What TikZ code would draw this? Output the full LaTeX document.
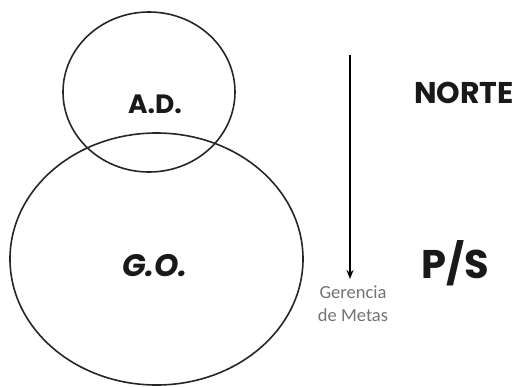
\documentclass[tikz,border=0pt]{standalone}
\usepackage{fontspec}
\setmainfont{Poppins}
\newfontfamily\notefont{Carlito}
\usetikzlibrary{arrows.meta}
\begin{document}
\begin{tikzpicture}[x=1pt,y=-1pt,
  ring/.style={draw=black!85,line width=1.6pt},
  bigtag/.style={font=\bfseries,text=black!90,inner sep=0pt},
  note/.style={font=\notefont\fontsize{18.5}{23}\selectfont,text=black!55,align=center,inner sep=0pt}]
  \useasboundingbox (0,0) rectangle (519,386);
  % overlapping circles
  \draw[ring] (149,92) ellipse [x radius=86,y radius=80];
  \draw[ring] (156.5,259) ellipse [x radius=146.5,y radius=126];
  \node[bigtag,font=\bfseries\fontsize{26.5}{30}\selectfont] (ad) at (155,104) {A.D.};
  \node[bigtag,font=\bfseries\itshape\fontsize{31}{36}\selectfont] (go) at (155,266) {G.O.};
  % downward arrow with its caption
  \coordinate (top) at (350,55);
  \coordinate (tip) at (350,279);
  \node[note] (gm) at (353,304) {Gerencia\\de Metas};
  \draw[line width=1.8pt,-{Stealth[length=9pt,width=7pt]}] (top) -- (tip);
  \node[bigtag,font=\bfseries\fontsize{30}{34}\selectfont] (norte) at (464,93) {NORTE};
  \node[bigtag,font=\bfseries\fontsize{40}{46}\selectfont] (ps) at (455,263) {P/S};
\end{tikzpicture}
\end{document}
